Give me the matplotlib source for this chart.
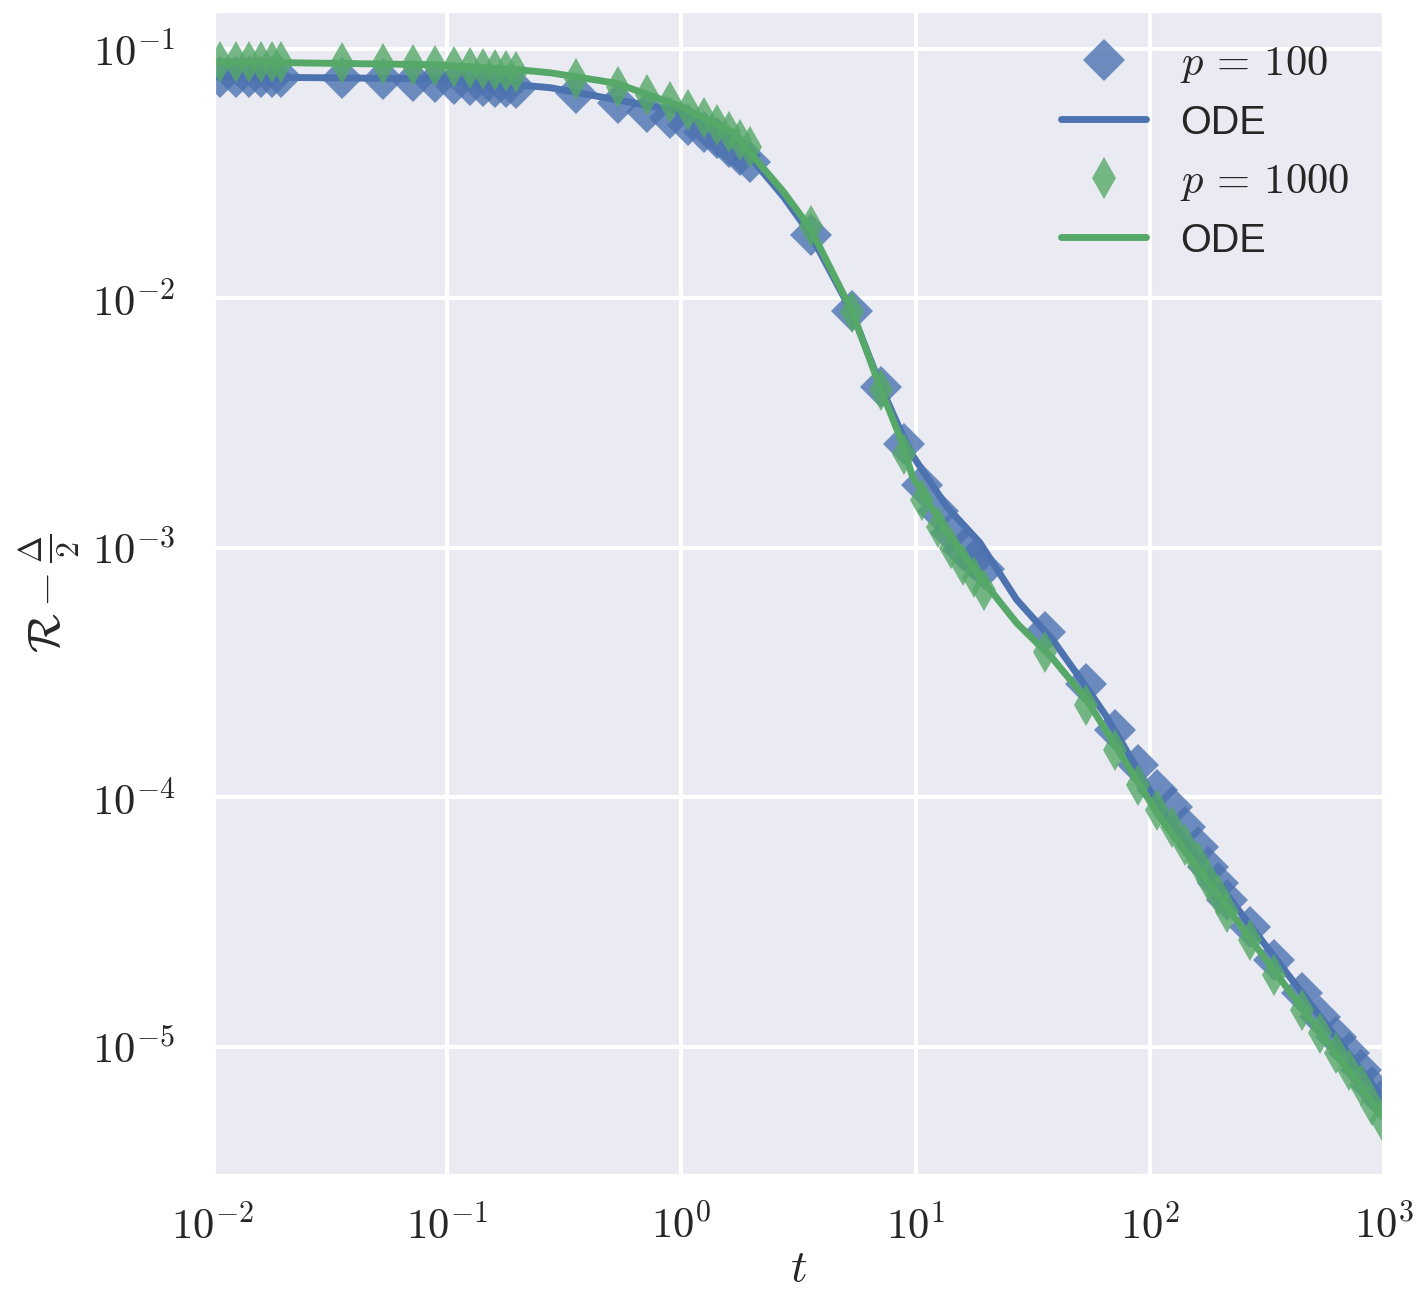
import numpy as np
import matplotlib
matplotlib.use('Agg')
import matplotlib.pyplot as plt
import seaborn as sns
from matplotlib.ticker import FuncFormatter, NullFormatter, NullLocator

sns.set_theme(style='darkgrid', context='poster')
plt.rcParams['font.family'] = ['Liberation Sans', 'DejaVu Sans']
plt.rcParams['mathtext.fontset'] = 'cm'

# sampled times of the simulations (same for both p)
t_sim = [0.0107, 0.0125, 0.0142, 0.0160, 0.0178, 0.0196, 0.0356, 0.0534, 0.0712, 0.0890,
         0.107, 0.125, 0.142, 0.160, 0.178, 0.196, 0.356, 0.534, 0.712, 0.890,
         1.07, 1.25, 1.42, 1.60, 1.78, 1.96, 3.56, 5.34, 7.12, 8.90,
         10.7, 12.5, 14.2, 16.0, 17.8, 19.6, 35.6, 53.4, 71.2, 89.0,
         107, 125, 142, 160, 178, 196, 214, 267, 340, 445, 534, 623, 712, 801, 890, 979]

r_p100 = [0.0773, 0.0772, 0.0772, 0.0771, 0.0771, 0.0770, 0.0765, 0.0755, 0.0745, 0.0737,
          0.0724, 0.0717, 0.0711, 0.0705, 0.0703, 0.0698, 0.0666, 0.0608, 0.0559, 0.0529,
          0.0496, 0.0465, 0.0440, 0.0405, 0.0376, 0.0353, 0.0180, 0.0089, 0.0044, 0.0026,
          0.00179, 0.00141, 0.00115, 0.00098, 0.000895, 0.000824, 0.00046, 0.000285, 0.000187, 0.000135,
          1.07e-4, 9.16e-5, 7.62e-5, 6.34e-5, 5.27e-5, 4.54e-5, 3.88e-5, 3.03e-5, 2.23e-5, 1.65e-5,
          1.32e-5, 1.10e-5, 9.46e-6, 8.09e-6, 6.92e-6, 6.14e-6]

r_p1000 = [0.0888, 0.0887, 0.0887, 0.0886, 0.0886, 0.0885, 0.0879, 0.0871, 0.0863, 0.0855,
           0.0847, 0.0839, 0.0832, 0.0824, 0.0816, 0.0809, 0.0758, 0.0705, 0.0654, 0.0613,
           0.0570, 0.0529, 0.0496, 0.0465, 0.0432, 0.0405, 0.0194, 0.0088, 0.0043, 0.00237,
           0.00156, 0.00121, 0.00100, 0.000855, 0.000766, 0.000679, 0.000383, 0.000235, 0.000155, 0.000112,
           8.91e-5, 7.62e-5, 6.45e-5, 5.51e-5, 4.67e-5, 4.06e-5, 3.47e-5, 2.69e-5, 1.95e-5, 1.41e-5,
           1.14e-5, 9.46e-6, 8.09e-6, 7.05e-6, 5.86e-6, 5.10e-6]

# ODE solutions
t_ode = [0.01, 0.087, 0.2, 0.275, 0.449, 0.531, 1.0, 1.66, 2.73, 3.56, 5.34, 7.12,
         8.55, 9.7, 13.6, 18.8, 27, 38.5, 53.8, 65.5, 110, 1000]
r_ode100 = [0.0772, 0.0758, 0.0717, 0.0698, 0.0642, 0.0624, 0.0559, 0.0444, 0.0255, 0.0180,
            0.00883, 0.00442, 0.0030, 0.00235, 0.00146, 0.00105, 0.00062, 0.000428,
            0.000275, 0.00021, 9.16e-5, 6.14e-6]
r_ode1000 = [0.0887, 0.0863, 0.0824, 0.0801, 0.0745, 0.0725, 0.0586, 0.0461, 0.0267, 0.0190,
             0.0089, 0.0043, 0.0028, 0.00193, 0.00115, 0.000766, 0.0005, 0.00036,
             0.000246, 0.000183, 8.36e-5, 5.19e-6]

blue = '#4C72B0'
green = '#55A868'

fig, ax = plt.subplots(figsize=(9.5, 8.6267), dpi=150)
fig.subplots_adjust(left=0.1495, right=0.9712, top=0.9923, bottom=0.0912)

ax.plot(t_sim, r_p100, 'D', color=blue, ms=14, alpha=0.8, mew=0, label=r'$p\,=\,100$')
ax.plot(t_ode, r_ode100, '-', color=blue, lw=3.3, label='ODE')
ax.plot(t_sim, r_p1000, 'd', color=green, ms=14, alpha=0.8, mew=0, label=r'$p\,=\,1000$')
ax.plot(t_ode, r_ode1000, '-', color=green, lw=3.3, label='ODE')

ax.set_xscale('log')
ax.set_yscale('log')
ax.set_xlim(1e-2, 1e3)
ax.set_ylim(3.04e-6, 0.143)

fmt = FuncFormatter(lambda v, pos: r'$10^{%d}$' % int(round(np.log10(v))))
for axis in (ax.xaxis, ax.yaxis):
    axis.set_major_formatter(fmt)
    axis.set_minor_locator(NullLocator())
    axis.set_minor_formatter(NullFormatter())
ax.tick_params(axis='x', labelsize=20.5, pad=2)
ax.tick_params(axis='y', labelsize=20.5, pad=6)

ax.set_xlabel(r'$t$', fontsize=22)
ax.set_ylabel(r'$\mathcal{R} - \frac{\Delta}{2}$', fontsize=22)
ax.xaxis.set_label_coords(0.5, -0.061)
ax.yaxis.set_label_coords(-0.112, 0.5)

leg = ax.legend(loc='upper right', frameon=False, fontsize=20.5, numpoints=1,
                labelspacing=0.45, borderaxespad=0.4)
for txt in leg.get_texts():
    if txt.get_text() == 'ODE':
        txt.set_fontsize(19)

fig.savefig('out.png', dpi=150)
